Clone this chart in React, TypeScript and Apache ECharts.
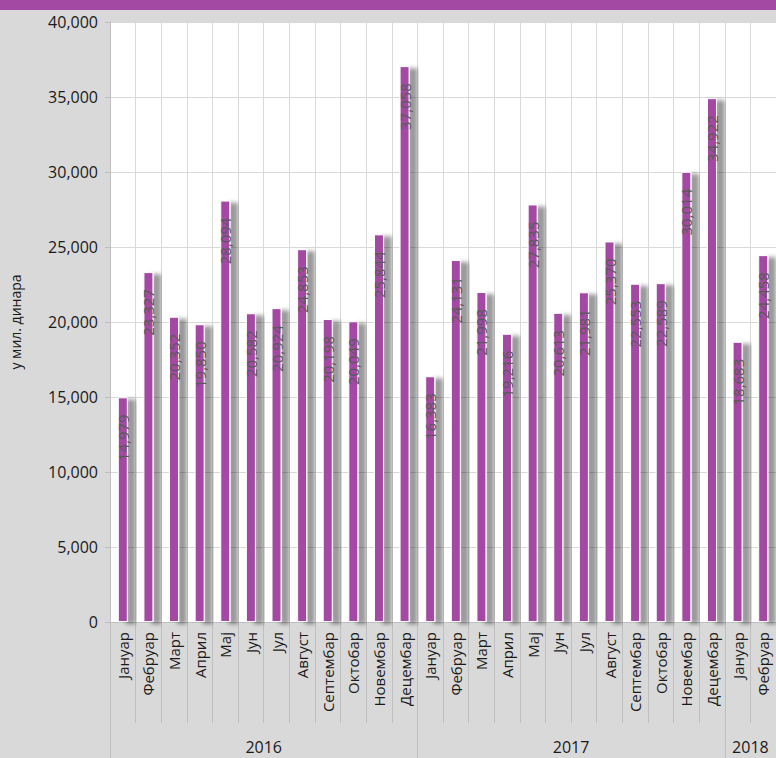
import React, { useEffect, useRef } from "react";
import * as echarts from "echarts";

const months = [
  "Јануар", "Фебруар", "Март", "Април", "Мај", "Јун",
  "Јул", "Август", "Септембар", "Октобар", "Новембар", "Децембар",
];
const years = ["2016", "2017", "2018"];
const monthsPerYear = [12, 12, 2];
const values2016 = [14979, 23327, 20352, 19850, 28094, 20582, 20924, 24853, 20198, 20049, 25844, 37058];
const values2017 = [16383, 24131, 21998, 19216, 27835, 20613, 21981, 25370, 22553, 22589, 30014, 34922];
const values2018 = [18683, 24458];
const yTicks = { min: 0, max: 40000, interval: 5000 };
const yAxisName = "у мил. динара";

const FONT = "'Open Sans', 'Noto Sans', sans-serif";

export default function App() {
  const ref = useRef<HTMLDivElement>(null);
  useEffect(() => {
    if (!ref.current) return;
    const chart = echarts.init(ref.current, null, { renderer: "svg" });

    const categories: string[] = [];
    monthsPerYear.forEach((n) => {
      for (let i = 0; i < n; i++) categories.push(months[i]);
    });
    const data = [...values2016, ...values2017, ...values2018];
    const total = categories.length;

    const boundaries: number[] = [0];
    const centers: number[] = [];
    let acc = 0;
    monthsPerYear.forEach((n) => {
      centers.push(acc + n / 2);
      acc += n;
      boundaries.push(acc);
    });

    const fmt = (v: number) => v.toLocaleString("en-US");

    chart.setOption({
      animation: false,
      backgroundColor: "#d9d9d9",
      textStyle: { fontFamily: FONT },
      graphic: [
        {
          type: "rect",
          left: 0,
          top: 0,
          shape: { width: 776, height: 10 },
          style: { fill: "#a349a4" },
          silent: true,
        },
      ],
      grid: {
        left: 108,
        right: 0,
        top: 22,
        bottom: 136,
        show: true,
        backgroundColor: "#ffffff",
        borderWidth: 0,
      },
      yAxis: {
        type: "value",
        min: yTicks.min,
        max: yTicks.max,
        interval: yTicks.interval,
        name: yAxisName,
        nameLocation: "middle",
        nameGap: 88,
        nameRotate: 90,
        nameTextStyle: { fontSize: 14, color: "#1a1a1a", fontFamily: FONT },
        axisLine: { show: true, lineStyle: { color: "#bfbfbf" } },
        axisTick: { show: true, length: 5, lineStyle: { color: "#bfbfbf" } },
        axisLabel: {
          formatter: (v: number) => fmt(v),
          fontSize: 16,
          color: "#1a1a1a",
          margin: 12,
          fontFamily: FONT,
        },
        splitLine: { show: true, lineStyle: { color: "#d9d9d9", width: 1 } },
      },
      xAxis: [
        {
          type: "category",
          data: categories,
          position: "bottom",
          axisLine: { show: true, lineStyle: { color: "#bfbfbf" } },
          axisTick: { show: true, interval: 0, length: 101, lineStyle: { color: "#bfbfbf" } },
          axisLabel: {
            rotate: 90,
            interval: 0,
            fontSize: 15,
            color: "#1a1a1a",
            margin: 10,
            fontFamily: FONT,
          },
          splitLine: { show: true, interval: 0, lineStyle: { color: "#d9d9d9" } },
        },
        {
          type: "value",
          min: 0,
          max: total,
          position: "bottom",
          axisLine: { show: false },
          axisTick: {
            show: true,
            customValues: boundaries,
            length: 136,
            lineStyle: { color: "#bfbfbf" },
          },
          axisLabel: {
            show: true,
            customValues: centers,
            formatter: (v: number) => {
              const idx = centers.indexOf(v);
              return idx >= 0 ? years[idx] : "";
            },
            fontSize: 16,
            color: "#1a1a1a",
            margin: 117,
            fontFamily: FONT,
          },
          splitLine: { show: false },
        },
      ],
      series: [
        {
          type: "bar",
          xAxisIndex: 0,
          yAxisIndex: 0,
          data,
          barWidth: 10,
          itemStyle: {
            color: "#a349a4",
            borderColor: "#ffffff",
            borderWidth: 1,
            shadowColor: "rgba(0,0,0,0.4)",
            shadowBlur: 4,
            shadowOffsetX: 8,
            shadowOffsetY: 2,
          },
          label: {
            show: true,
            position: "insideTop",
            rotate: 90,
            align: "right",
            verticalAlign: "middle",
            distance: 17,
            formatter: (p: any) => fmt(p.value),
            fontSize: 15,
            color: "#595959",
            textBorderWidth: 0,
            textShadowBlur: 0,
            fontFamily: FONT,
          },
        },
      ],
    });
    return () => chart.dispose();
  }, []);
  return (
    <div
      ref={ref}
      style={{ position: "fixed", left: 0, top: 0, width: 776, height: 758 }}
    />
  );
}
